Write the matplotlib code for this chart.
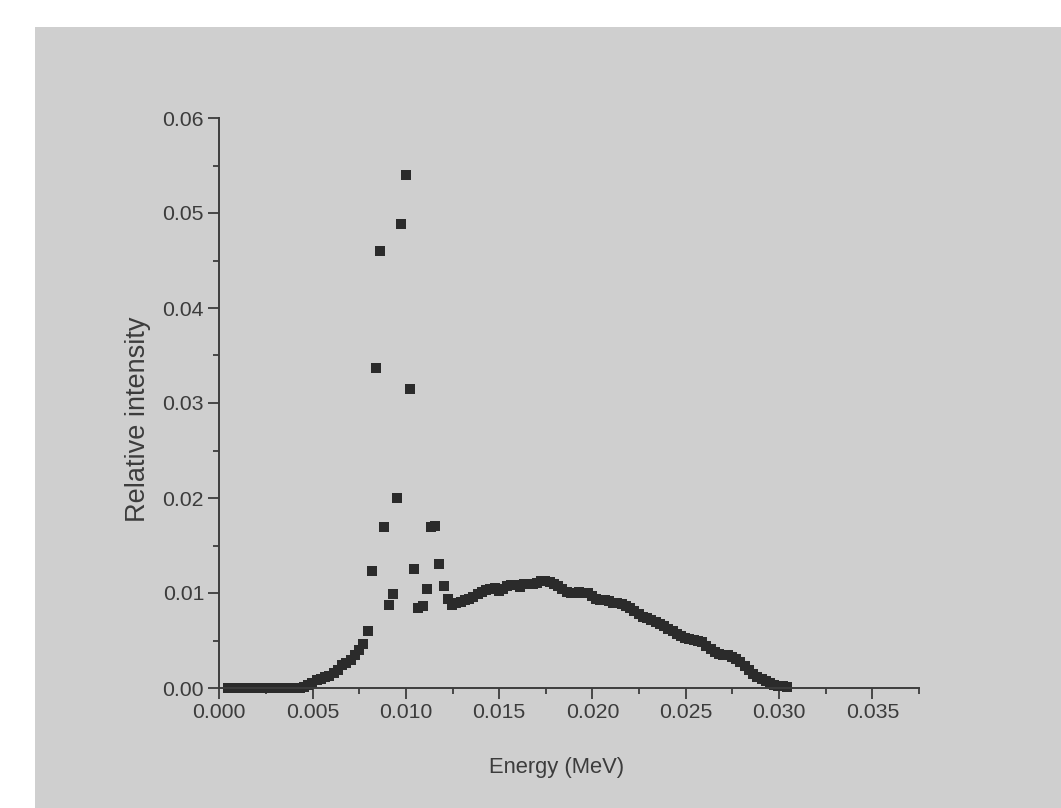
import matplotlib
matplotlib.use("Agg")
import matplotlib.pyplot as plt
from matplotlib.patches import Rectangle

# energie in keV, relatieve intensiteit
energy_kev = [
    0.45, 0.68, 0.91, 1.14, 1.36, 1.59, 1.82, 2.04, 2.27, 2.50,
    2.72, 2.95, 3.18, 3.41, 3.63, 3.86, 4.09, 4.31, 4.54, 4.77,
    4.99, 5.22, 5.45, 5.68, 5.90, 6.13, 6.36, 6.58, 6.81, 7.04,
    7.26, 7.49, 7.72, 7.95, 8.17, 8.40, 8.63, 8.85, 9.08, 9.31,
    9.53, 9.76, 9.99, 10.22, 10.44, 10.67, 10.90, 11.12, 11.35, 11.58,
    11.80, 12.03, 12.26, 12.49, 12.71, 12.94, 13.17, 13.39, 13.62, 13.85,
    14.07, 14.30, 14.53, 14.76, 14.98, 15.21, 15.44, 15.66, 15.89, 16.12,
    16.34, 16.57, 16.80, 17.03, 17.25, 17.48, 17.71, 17.93, 18.16, 18.39,
    18.61, 18.84, 19.07, 19.30, 19.52, 19.75, 19.98, 20.20, 20.43, 20.66,
    20.88, 21.11, 21.34, 21.57, 21.79, 22.02, 22.25, 22.47, 22.70, 22.93,
    23.15, 23.38, 23.61, 23.84, 24.06, 24.29, 24.52, 24.74, 24.97, 25.20,
    25.42, 25.65, 25.88, 26.11, 26.33, 26.56, 26.79, 27.01, 27.24, 27.47,
    27.69, 27.92, 28.15, 28.38, 28.60, 28.83, 29.06, 29.28, 29.51, 29.74,
    29.96, 30.19, 30.42,
]
intensity = [
    0.0, 0.0, 0.0, 0.0, 0.0, 0.0, 0.0, 0.0, 0.0, 0.0,
    0.0, 0.0, 0.0, 0.0, 0.0, 0.0, 0.0, 0.0, 0.0001, 0.0003,
    0.0005, 0.0008, 0.0010, 0.0012, 0.0013, 0.0016, 0.0019, 0.0024, 0.0026, 0.0029,
    0.0035, 0.0040, 0.0046, 0.0060, 0.0123, 0.0337, 0.0460, 0.0170, 0.0087, 0.0099,
    0.0200, 0.0488, 0.0540, 0.0315, 0.0125, 0.0084, 0.0086, 0.0104, 0.0169, 0.0171,
    0.0131, 0.0107, 0.0094, 0.0087, 0.0089, 0.0091, 0.0093, 0.0094, 0.0096, 0.0099,
    0.0101, 0.0103, 0.0104, 0.0105, 0.0102, 0.0104, 0.0107, 0.0108, 0.0108, 0.0106,
    0.0109, 0.0110, 0.0110, 0.0111, 0.0113, 0.0113, 0.0112, 0.0110, 0.0107, 0.0104,
    0.0101, 0.0100, 0.0100, 0.0101, 0.0100, 0.0100, 0.0097, 0.0094, 0.0093, 0.0093,
    0.0092, 0.0090, 0.0089, 0.0088, 0.0086, 0.0084, 0.0081, 0.0078, 0.0075, 0.0074,
    0.0072, 0.0070, 0.0067, 0.0065, 0.0062, 0.0060, 0.0057, 0.0055, 0.0053, 0.0052,
    0.0051, 0.0050, 0.0048, 0.0044, 0.0041, 0.0038, 0.0036, 0.0035, 0.0035, 0.0033,
    0.0031, 0.0027, 0.0023, 0.0019, 0.0015, 0.0012, 0.0009, 0.0007, 0.0005, 0.0003,
    0.0002, 0.0002, 0.0001,
]
energy_mev = [e / 1000 for e in energy_kev]

plt.rcParams['font.family'] = ['Liberation Sans', 'DejaVu Sans']
ink = '#3c3c3c'

fig = plt.figure(figsize=(10.61, 8.08), dpi=100)
fig.patch.set_facecolor('white')
# grijze achtergrond, met witte rand links en boven
fig.add_artist(Rectangle((35 / 1061, 0), 1 - 35 / 1061, 1 - 27 / 808,
                         transform=fig.transFigure, facecolor='#cfcfcf',
                         edgecolor='none', zorder=-5))

ax = fig.add_axes([219.3 / 1061, 1 - 688 / 808, (919 - 219.3) / 1061, (688 - 118) / 808])
ax.set_zorder(2)
ax.set_facecolor('none')

ax.plot(energy_mev, intensity, linestyle='none', marker='s', markersize=7.3,
        color='#2b2b2b', markeredgewidth=0, clip_on=False)

ax.set_xlim(0, 0.0375)
ax.set_ylim(0, 0.06)
ax.set_xticks([0.0, 0.005, 0.010, 0.015, 0.020, 0.025, 0.030, 0.035])
ax.set_xticklabels(['0.000', '0.005', '0.010', '0.015', '0.020', '0.025', '0.030', '0.035'])
ax.set_xticks([0.0025, 0.0075, 0.0125, 0.0175, 0.0225, 0.0275, 0.0325, 0.0375], minor=True)
ax.set_yticks([0.0, 0.01, 0.02, 0.03, 0.04, 0.05, 0.06])
ax.set_yticklabels(['0.00', '0.01', '0.02', '0.03', '0.04', '0.05', '0.06'])
ax.set_yticks([0.005, 0.015, 0.025, 0.035, 0.045, 0.055], minor=True)

for side in ['top', 'right']:
    ax.spines[side].set_visible(False)
for side in ['left', 'bottom']:
    ax.spines[side].set_color(ink)
    ax.spines[side].set_linewidth(1.4)

ax.tick_params(which='major', direction='out', length=8, width=1.3, color=ink,
               labelsize=15.3, labelcolor=ink, pad=3)
ax.tick_params(which='minor', direction='out', length=4.5, width=1.3, color=ink)

ax.set_xlabel('Energy (MeV)', fontsize=15.8, color=ink, labelpad=25)
ax.set_ylabel('Relative intensity', fontsize=19.5, color=ink, labelpad=8)
# labels staan in het origineel iets uit het midden
ax.xaxis.label.set_x(0.482)
ax.yaxis.label.set_y(0.472)

fig.savefig('out.png', dpi=100, facecolor=fig.get_facecolor())
